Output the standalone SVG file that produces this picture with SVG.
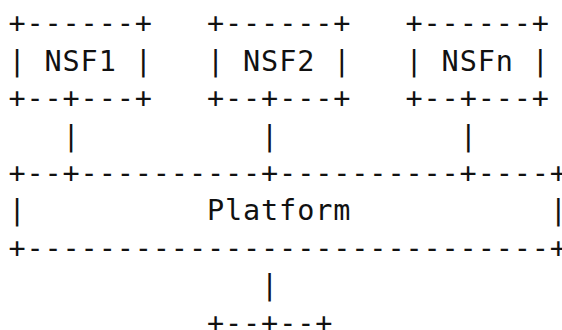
<svg xmlns="http://www.w3.org/2000/svg" width="562" height="330" viewBox="0 0 562 330">
  <style>
    text { font-family: "DejaVu Sans Mono", "Liberation Mono", monospace; font-size: 28.5px; letter-spacing: 0.89px; fill: #111; white-space: pre; }
  </style>
  <rect width="562" height="330" fill="#fff"/>
  <!-- character grid: column step 18.05px, row step 37.4px -->
  <g id="nsf1">
    <text x="8.4" y="33.3" xml:space="preserve">+------+</text>
    <text x="8.4" y="70.7" xml:space="preserve">| NSF1 |</text>
    <text x="8.4" y="108.1" xml:space="preserve">+--+---+</text>
  </g>
  <g id="nsf2">
    <text x="206.95" y="33.3" xml:space="preserve">+------+</text>
    <text x="206.95" y="70.7" xml:space="preserve">| NSF2 |</text>
    <text x="206.95" y="108.1" xml:space="preserve">+--+---+</text>
  </g>
  <g id="nsfn">
    <text x="405.5" y="33.3" xml:space="preserve">+------+</text>
    <text x="405.5" y="70.7" xml:space="preserve">| NSFn |</text>
    <text x="405.5" y="108.1" xml:space="preserve">+--+---+</text>
  </g>
  <g id="connectors">
    <text x="62.55" y="145.5">|</text>
    <text x="261.1" y="145.5">|</text>
    <text x="459.65" y="145.5">|</text>
    <text x="261.1" y="295.1">|</text>
  </g>
  <g id="platform">
    <text x="8.4" y="182.9" xml:space="preserve">+--+----------+----------+----+</text>
    <text x="8.4" y="220.3" xml:space="preserve">|          Platform           |</text>
    <text x="8.4" y="257.7" xml:space="preserve">+-----------------------------+</text>
  </g>
  <g id="lower">
    <text x="206.95" y="332.5" xml:space="preserve">+--+--+</text>
  </g>
</svg>
